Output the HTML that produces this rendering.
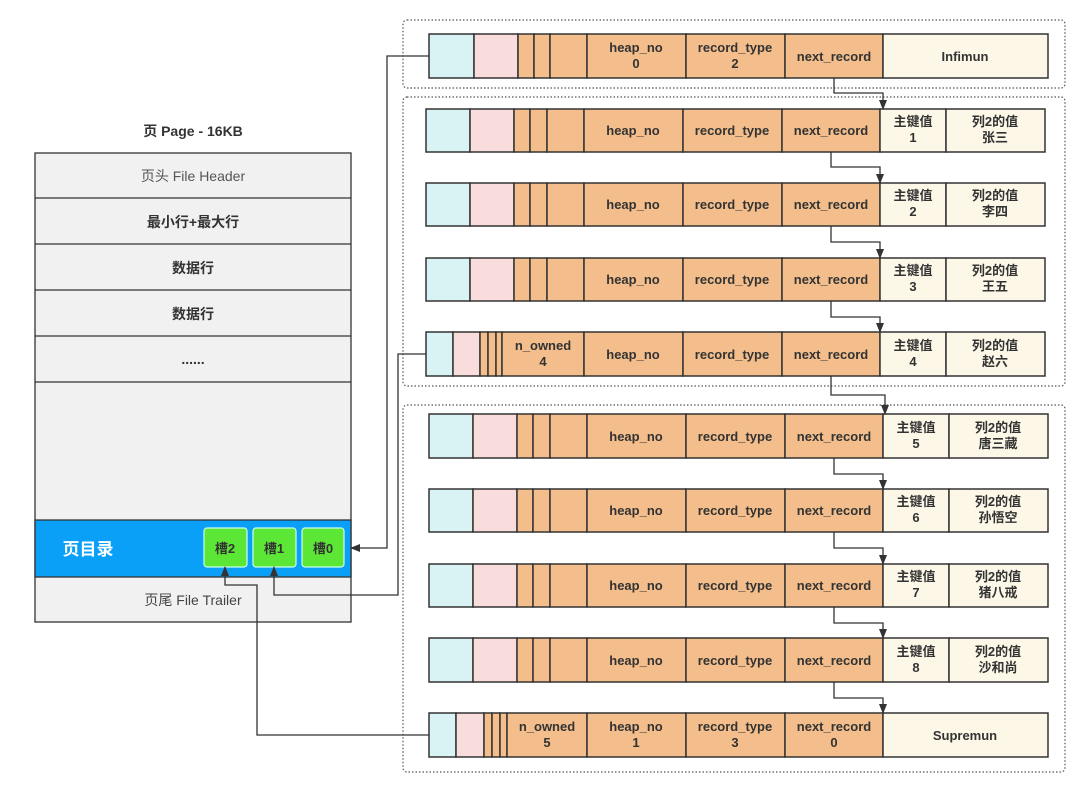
<!DOCTYPE html>
<html><head><meta charset="utf-8"><style>
html,body{margin:0;padding:0;background:#fff;}
svg{display:block;font-family:"Liberation Sans","Noto Sans CJK SC",sans-serif;}
.c{fill:#d9f3f4;stroke:#333;stroke-width:1.5}
.p{fill:#f9dcdc;stroke:#333;stroke-width:1.5}
.o{fill:#f3be8b;stroke:#333;stroke-width:1.5}
.k{fill:#fcf7e7;stroke:#333;stroke-width:1.5}
text{font-size:13px;font-weight:bold;fill:#333;text-anchor:middle}
.g{fill:#f1f1f1;stroke:#333;stroke-width:1.3}
.ln{fill:none;stroke:#333;stroke-width:1.3}
.dot{fill:none;stroke:#555;stroke-width:1.2;stroke-dasharray:1.5 2}
.lp{font-size:14px}
</style></head><body>
<svg width="1085" height="786" viewBox="0 0 1085 786">
<defs><marker id="a" markerWidth="10" markerHeight="10" refX="9" refY="5" orient="auto" markerUnits="userSpaceOnUse"><path d="M0,1 L10,5 L0,9 Z" fill="#333"/></marker></defs>

<rect class="dot" x="403" y="20" width="662" height="68" rx="4"/>
<rect class="dot" x="403" y="97" width="662" height="289" rx="4"/>
<rect class="dot" x="403" y="405" width="662" height="367" rx="4"/>

<text x="193" y="136" style="font-size:14px">页 Page - 16KB</text>
<rect class="g" x="35" y="153" width="316" height="469"/>
<line class="ln" x1="35" y1="198" x2="351" y2="198"/>
<line class="ln" x1="35" y1="244" x2="351" y2="244"/>
<line class="ln" x1="35" y1="290" x2="351" y2="290"/>
<line class="ln" x1="35" y1="336" x2="351" y2="336"/>
<line class="ln" x1="35" y1="382" x2="351" y2="382"/>
<text x="193" y="181" style="font-weight:normal;font-size:14px;fill:#555">页头 File Header</text>
<text class="lp" x="193" y="227">最小行+最大行</text>
<text class="lp" x="193" y="273">数据行</text>
<text class="lp" x="193" y="319">数据行</text>
<text class="lp" x="193" y="364">......</text>
<rect x="35" y="520" width="316" height="57" fill="#0aa0f8" stroke="#333" stroke-width="1.3"/>
<text x="88" y="555" style="fill:#fff;font-size:17px">页目录</text>
<rect x="204" y="528" width="43" height="39" rx="3" fill="#5ce635" stroke="#cfe" stroke-width="1.2"/>
<rect x="253" y="528" width="43" height="39" rx="3" fill="#5ce635" stroke="#cfe" stroke-width="1.2"/>
<rect x="302" y="528" width="42" height="39" rx="3" fill="#5ce635" stroke="#cfe" stroke-width="1.2"/>
<text x="225" y="553">槽2</text><text x="274" y="553">槽1</text><text x="323" y="553">槽0</text>
<text x="193" y="605" style="font-weight:normal;font-size:14px;fill:#444">页尾 File Trailer</text>

<g transform="translate(429,34)">
<rect class="c" x="0" y="0" width="45" height="44"/><rect class="p" x="45" y="0" width="44" height="44"/>
<rect class="o" x="89" y="0" width="16" height="44"/><rect class="o" x="105" y="0" width="16" height="44"/><rect class="o" x="121" y="0" width="37" height="44"/>
<rect class="o" x="158" y="0" width="99" height="44"/><rect class="o" x="257" y="0" width="99" height="44"/><rect class="o" x="356" y="0" width="98" height="44"/>
<rect class="k" x="454" y="0" width="165" height="44"/>
<text x="207" y="18">heap_no</text><text x="207" y="34">0</text>
<text x="306" y="18">record_type</text><text x="306" y="34">2</text>
<text x="405" y="27">next_record</text><text x="536" y="27">Infimun</text>
</g>

<g transform="translate(426,109)">
<rect class="c" x="0" y="0" width="44" height="43"/><rect class="p" x="44" y="0" width="44" height="43"/>
<rect class="o" x="88" y="0" width="16" height="43"/><rect class="o" x="104" y="0" width="17" height="43"/><rect class="o" x="121" y="0" width="37" height="43"/>
<rect class="o" x="158" y="0" width="99" height="43"/><rect class="o" x="257" y="0" width="99" height="43"/><rect class="o" x="356" y="0" width="98" height="43"/>
<rect class="k" x="454" y="0" width="66" height="43"/><rect class="k" x="520" y="0" width="99" height="43"/>
<text x="207" y="26">heap_no</text><text x="306" y="26">record_type</text><text x="405" y="26">next_record</text>
<text x="487" y="17">主键值</text><text x="487" y="33">1</text><text x="569" y="17">列2的值</text><text x="569" y="33">张三</text>
</g>
<g transform="translate(426,183)">
<rect class="c" x="0" y="0" width="44" height="43"/><rect class="p" x="44" y="0" width="44" height="43"/>
<rect class="o" x="88" y="0" width="16" height="43"/><rect class="o" x="104" y="0" width="17" height="43"/><rect class="o" x="121" y="0" width="37" height="43"/>
<rect class="o" x="158" y="0" width="99" height="43"/><rect class="o" x="257" y="0" width="99" height="43"/><rect class="o" x="356" y="0" width="98" height="43"/>
<rect class="k" x="454" y="0" width="66" height="43"/><rect class="k" x="520" y="0" width="99" height="43"/>
<text x="207" y="26">heap_no</text><text x="306" y="26">record_type</text><text x="405" y="26">next_record</text>
<text x="487" y="17">主键值</text><text x="487" y="33">2</text><text x="569" y="17">列2的值</text><text x="569" y="33">李四</text>
</g>
<g transform="translate(426,258)">
<rect class="c" x="0" y="0" width="44" height="43"/><rect class="p" x="44" y="0" width="44" height="43"/>
<rect class="o" x="88" y="0" width="16" height="43"/><rect class="o" x="104" y="0" width="17" height="43"/><rect class="o" x="121" y="0" width="37" height="43"/>
<rect class="o" x="158" y="0" width="99" height="43"/><rect class="o" x="257" y="0" width="99" height="43"/><rect class="o" x="356" y="0" width="98" height="43"/>
<rect class="k" x="454" y="0" width="66" height="43"/><rect class="k" x="520" y="0" width="99" height="43"/>
<text x="207" y="26">heap_no</text><text x="306" y="26">record_type</text><text x="405" y="26">next_record</text>
<text x="487" y="17">主键值</text><text x="487" y="33">3</text><text x="569" y="17">列2的值</text><text x="569" y="33">王五</text>
</g>
<g transform="translate(426,332)">
<rect class="c" x="0" y="0" width="27" height="44"/><rect class="p" x="27" y="0" width="27" height="44"/>
<rect class="o" x="54" y="0" width="8" height="44"/><rect class="o" x="62" y="0" width="8" height="44"/><rect class="o" x="70" y="0" width="6" height="44"/>
<rect class="o" x="76" y="0" width="82" height="44"/>
<rect class="o" x="158" y="0" width="99" height="44"/><rect class="o" x="257" y="0" width="99" height="44"/><rect class="o" x="356" y="0" width="98" height="44"/>
<rect class="k" x="454" y="0" width="66" height="44"/><rect class="k" x="520" y="0" width="99" height="44"/>
<text x="117" y="18">n_owned</text><text x="117" y="34">4</text>
<text x="207" y="27">heap_no</text><text x="306" y="27">record_type</text><text x="405" y="27">next_record</text>
<text x="487" y="18">主键值</text><text x="487" y="34">4</text><text x="569" y="18">列2的值</text><text x="569" y="34">赵六</text>
</g>

<g transform="translate(429,414)">
<rect class="c" x="0" y="0" width="44" height="44"/><rect class="p" x="44" y="0" width="44" height="44"/>
<rect class="o" x="88" y="0" width="16" height="44"/><rect class="o" x="104" y="0" width="17" height="44"/><rect class="o" x="121" y="0" width="37" height="44"/>
<rect class="o" x="158" y="0" width="99" height="44"/><rect class="o" x="257" y="0" width="99" height="44"/><rect class="o" x="356" y="0" width="98" height="44"/>
<rect class="k" x="454" y="0" width="66" height="44"/><rect class="k" x="520" y="0" width="99" height="44"/>
<text x="207" y="27">heap_no</text><text x="306" y="27">record_type</text><text x="405" y="27">next_record</text>
<text x="487" y="18">主键值</text><text x="487" y="34">5</text><text x="569" y="18">列2的值</text><text x="569" y="34">唐三藏</text>
</g>
<g transform="translate(429,489)">
<rect class="c" x="0" y="0" width="44" height="43"/><rect class="p" x="44" y="0" width="44" height="43"/>
<rect class="o" x="88" y="0" width="16" height="43"/><rect class="o" x="104" y="0" width="17" height="43"/><rect class="o" x="121" y="0" width="37" height="43"/>
<rect class="o" x="158" y="0" width="99" height="43"/><rect class="o" x="257" y="0" width="99" height="43"/><rect class="o" x="356" y="0" width="98" height="43"/>
<rect class="k" x="454" y="0" width="66" height="43"/><rect class="k" x="520" y="0" width="99" height="43"/>
<text x="207" y="26">heap_no</text><text x="306" y="26">record_type</text><text x="405" y="26">next_record</text>
<text x="487" y="17">主键值</text><text x="487" y="33">6</text><text x="569" y="17">列2的值</text><text x="569" y="33">孙悟空</text>
</g>
<g transform="translate(429,564)">
<rect class="c" x="0" y="0" width="44" height="43"/><rect class="p" x="44" y="0" width="44" height="43"/>
<rect class="o" x="88" y="0" width="16" height="43"/><rect class="o" x="104" y="0" width="17" height="43"/><rect class="o" x="121" y="0" width="37" height="43"/>
<rect class="o" x="158" y="0" width="99" height="43"/><rect class="o" x="257" y="0" width="99" height="43"/><rect class="o" x="356" y="0" width="98" height="43"/>
<rect class="k" x="454" y="0" width="66" height="43"/><rect class="k" x="520" y="0" width="99" height="43"/>
<text x="207" y="26">heap_no</text><text x="306" y="26">record_type</text><text x="405" y="26">next_record</text>
<text x="487" y="17">主键值</text><text x="487" y="33">7</text><text x="569" y="17">列2的值</text><text x="569" y="33">猪八戒</text>
</g>
<g transform="translate(429,638)">
<rect class="c" x="0" y="0" width="44" height="44"/><rect class="p" x="44" y="0" width="44" height="44"/>
<rect class="o" x="88" y="0" width="16" height="44"/><rect class="o" x="104" y="0" width="17" height="44"/><rect class="o" x="121" y="0" width="37" height="44"/>
<rect class="o" x="158" y="0" width="99" height="44"/><rect class="o" x="257" y="0" width="99" height="44"/><rect class="o" x="356" y="0" width="98" height="44"/>
<rect class="k" x="454" y="0" width="66" height="44"/><rect class="k" x="520" y="0" width="99" height="44"/>
<text x="207" y="27">heap_no</text><text x="306" y="27">record_type</text><text x="405" y="27">next_record</text>
<text x="487" y="18">主键值</text><text x="487" y="34">8</text><text x="569" y="18">列2的值</text><text x="569" y="34">沙和尚</text>
</g>
<g transform="translate(429,713)">
<rect class="c" x="0" y="0" width="27" height="44"/><rect class="p" x="27" y="0" width="28" height="44"/>
<rect class="o" x="55" y="0" width="8" height="44"/><rect class="o" x="63" y="0" width="8" height="44"/><rect class="o" x="71" y="0" width="7" height="44"/>
<rect class="o" x="78" y="0" width="80" height="44"/>
<rect class="o" x="158" y="0" width="99" height="44"/><rect class="o" x="257" y="0" width="99" height="44"/><rect class="o" x="356" y="0" width="98" height="44"/>
<rect class="k" x="454" y="0" width="165" height="44"/>
<text x="118" y="18">n_owned</text><text x="118" y="34">5</text>
<text x="207" y="18">heap_no</text><text x="207" y="34">1</text>
<text x="306" y="18">record_type</text><text x="306" y="34">3</text>
<text x="405" y="18">next_record</text><text x="405" y="34">0</text>
<text x="536" y="27">Supremun</text>
</g>

<path class="ln" marker-end="url(#a)" d="M834,78 V93 H883 V109"/>
<path class="ln" marker-end="url(#a)" d="M831,152 V167 H880 V183"/>
<path class="ln" marker-end="url(#a)" d="M831,226 V242 H880 V258"/>
<path class="ln" marker-end="url(#a)" d="M831,301 V317 H880 V332"/>
<path class="ln" marker-end="url(#a)" d="M831,376 V395 H885 V414"/>
<path class="ln" marker-end="url(#a)" d="M834,458 V474 H883 V489"/>
<path class="ln" marker-end="url(#a)" d="M834,532 V548 H883 V564"/>
<path class="ln" marker-end="url(#a)" d="M834,607 V623 H883 V638"/>
<path class="ln" marker-end="url(#a)" d="M834,682 V698 H883 V713"/>

<path class="ln" marker-end="url(#a)" d="M429,56 H387 V548 H351"/>
<path class="ln" marker-end="url(#a)" d="M426,354 H398 V595 H274 V567"/>
<path class="ln" marker-end="url(#a)" d="M429,735 H257 V585 H225 V567"/>
</svg>
</body></html>
